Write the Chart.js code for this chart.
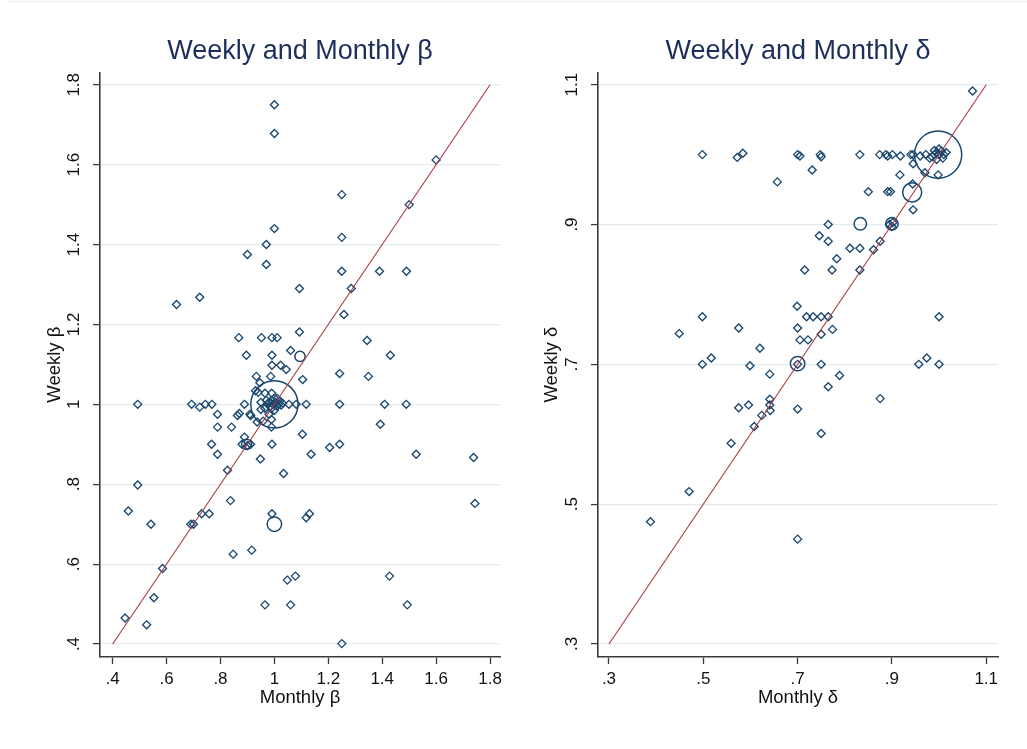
<!DOCTYPE html>
<html><head><meta charset="utf-8">
<script src="https://cdn.jsdelivr.net/npm/chart.js@4"></script>
<style>
html,body{margin:0;padding:0;background:#fff;}
#wrap{position:relative;width:1027px;height:749px;overflow:hidden;background:#fff;}
#c1{position:absolute;left:0;top:0;width:513px;height:749px;}
#c2{position:absolute;left:513px;top:0;width:514px;height:749px;}
#topline{position:absolute;left:7px;right:0;top:1px;height:1px;background:#e8eef0;}
</style></head><body>
<div id="wrap"><div id="topline"></div>
<canvas id="c1" width="513" height="749"></canvas>
<canvas id="c2" width="514" height="749"></canvas>
</div>
<script>
// ---------- DATA ----------
// Beta: single observations (diamonds)
const betaMonthly = [1.00,1.00,1.60,1.25,1.50,1.00,1.25,0.97,0.90,0.97,1.25,1.39,1.49,1.093,1.285,0.723,0.637,1.258,1.093,0.868,0.952,0.991,1.01,1.344,0.896,0.991,1.43,1.06,0.991,1.023,1.044,1.242,1.349,0.933,0.946,0.986,1.105,0.93,0.94,0.965,0.99,
0.493,0.693,0.723,0.744,0.768,0.789,0.789,0.841,0.767,0.789,0.826,0.863,0.87,0.889,0.909,0.912,0.889,0.88,0.90,0.912,0.948,0.991,1.034,1.104,1.136,1.054,1.081,1.118,1.242,1.409,1.489,1.393,1.205,1.242,1.526,1.739,1.744,
0.493,0.458,0.542,0.69,0.70,0.73,0.758,0.837,0.991,1.118,1.13,0.847,0.916,0.585,0.553,0.446,0.526,1.048,1.078,0.965,1.06,1.427,1.493,1.25,
0.95,0.95,0.98,0.989,0.958,0.936,0.989,
0.965,0.97,0.975,0.98,0.985,0.99,0.99,0.995,1.00,1.00,1.005,1.01,1.01,1.015,1.02,1.025,1.03];
const betaWeekly = [1.75,1.678,1.612,1.525,1.50,1.44,1.418,1.40,1.375,1.35,1.333,1.333,1.333,1.29,1.29,1.268,1.25,1.225,1.181,1.167,1.167,1.167,1.167,1.16,1.123,1.123,1.123,1.135,1.098,1.098,1.087,1.077,1.07,1.07,1.054,1.07,1.062,1.034,1.030,1.028,1.028,
1.0,1.0,0.993,1.0,1.0,0.975,0.943,0.943,0.90,0.875,0.835,0.972,0.977,1.0,0.975,0.972,0.918,0.90,0.897,0.90,0.863,0.90,0.827,0.925,0.875,1.0,1.0,1.0,1.0,1.0,1.0,0.95,0.892,0.90,0.875,0.867,0.752,
0.798,0.733,0.70,0.70,0.70,0.726,0.726,0.759,0.726,0.716,0.726,0.625,0.635,0.589,0.516,0.465,0.448,0.56,0.57,0.498,0.498,0.57,0.498,0.401,
1.005,0.987,0.975,0.962,0.958,0.956,0.943,
0.99,1.01,1.0,1.005,0.995,1.01,0.99,1.0,1.015,0.985,1.005,0.995,1.015,1.0,1.008,0.998,1.003];
// Beta: repeated observations (hollow circles, count = number of firms)
const betaRepMonthly = [1.00,1.00,1.095,0.897];
const betaRepWeekly  = [1.00,0.70,1.12,0.90];
const betaRepCount   = [43,4,2,2];

// Delta: single observations (diamonds)
const deltaMonthly = [1.071,0.498,0.572,0.584,0.70,0.705,0.748,0.75,0.832,0.874,0.887,0.891,0.901,0.918,0.94,0.945,0.96,0.972,
0.985,0.99,0.995,1.0,1.005,1.01,0.995,1.0,1.008,0.99,1.015,0.98,
0.945,0.97,0.998,0.731,0.657,0.917,0.944,0.85,0.891,0.897,0.945,0.765,0.895,0.902,0.90,0.746,0.765,0.811,0.832,0.861,0.875,0.783,0.715,0.773,0.832,
0.699,0.719,0.733,0.75,0.765,0.498,1.0,0.575,0.70,0.774,0.75,0.449,0.705,0.722,0.62,0.498,0.517,0.70,0.599,0.75,0.957,0.974,1.0,0.641,0.789,0.765,0.875,
0.575,0.596,0.641,0.641,0.642,0.624,0.608,0.70,0.75,0.559,0.47,0.388,0.70];
const deltaWeekly = [1.091,1.0,0.996,1.002,1.0,0.998,1.0,0.997,1.0,1.0,1.0,0.998,1.0,0.998,1.0,1.0,0.998,1.0,
0.997,1.0,1.003,1.0,1.005,1.0,0.993,1.008,0.995,1.006,1.003,0.995,
0.987,0.974,0.971,0.978,0.961,0.971,0.958,0.947,0.947,0.947,0.921,0.90,0.90,0.903,0.897,0.884,0.876,0.866,0.866,0.864,0.876,0.851,0.835,0.835,0.835,
0.783,0.768,0.768,0.768,0.768,0.768,0.768,0.752,0.752,0.75,0.743,0.744,0.735,0.735,0.723,0.70,0.709,0.70,0.698,0.70,0.70,0.709,0.70,0.686,0.684,0.668,0.651,
0.638,0.642,0.65,0.642,0.634,0.627,0.611,0.636,0.601,0.587,0.518,0.475,0.45];
// Delta: repeated observations
const deltaRepMonthly = [0.998,0.943,0.833,0.90,0.70];
const deltaRepWeekly  = [1.00,0.946,0.901,0.901,0.701];
const deltaRepCount   = [43,7,3,3,4];

// Tick values and labels
const betaTicks = [0.4,0.6,0.8,1.0,1.2,1.4,1.6,1.8];
const betaTickLabels = ['.4','.6','.8','1','1.2','1.4','1.6','1.8'];
const deltaTicks = [0.3,0.5,0.7,0.9,1.1];
const deltaTickLabels = ['.3','.5','.7','.9','1.1'];

// ---------- STYLE ----------
const FONT = '"Liberation Sans", Arial, sans-serif';
const NAVY = '#1a476f';
const RED = '#a8393f';
const TXT = '#111111';
const GRID = '#e3ecef';
const AXIS = '#3a3a3a';

// Stata-style tick labels: y labels rotated, x labels horizontal
const tickLabelPlugin = {
  id: 'tickLabels',
  afterDraw(chart, args, opts) {
    const sy = chart.scales.y, sx = chart.scales.x, ctx = chart.ctx;
    ctx.save();
    ctx.font = opts.size + 'px ' + FONT;
    ctx.fillStyle = TXT;
    ctx.textAlign = 'center';
    ctx.textBaseline = 'middle';
    opts.ticks.forEach((v, i) => {
      const y = sy.getPixelForValue(v);
      ctx.save();
      ctx.translate(sy.right - opts.yOffset, y);
      ctx.rotate(-Math.PI / 2);
      ctx.fillText(opts.labels[i], 0, 0);
      ctx.restore();
    });
    ctx.textBaseline = 'top';
    opts.ticks.forEach((v, i) => {
      ctx.fillText(opts.labels[i], sx.getPixelForValue(v), sx.top + opts.xOffset);
    });
    ctx.restore();
  }
};

function makeChart(id, p) {
  const pts = p.mx.map((x, i) => ({x: x, y: p.wy[i]}));
  const reps = p.rx.map((x, i) => ({x: x, y: p.ry[i], n: p.rn[i]}));
  const t0 = p.ticks[0], t1 = p.ticks[p.ticks.length - 1];
  return new Chart(document.getElementById(id), {
    type: 'scatter',
    data: {datasets: [
      {type: 'line', data: [{x: t0, y: t0}, {x: t1, y: t1}], borderColor: RED, borderWidth: 1.1,
       pointRadius: 0, fill: false, order: 0},
      {data: pts, pointStyle: 'rectRot', pointRadius: 4, borderColor: NAVY,
       backgroundColor: 'rgba(0,0,0,0)', borderWidth: 1.35, order: 1},
      {data: reps, pointStyle: 'circle', pointRadius: ctx => 3.6 * Math.sqrt(ctx.raw.n),
       borderColor: NAVY, backgroundColor: 'rgba(0,0,0,0)', borderWidth: 1.5, order: 1}
    ]},
    plugins: [tickLabelPlugin],
    options: {
      responsive: false, animation: false, events: [],
      layout: {autoPadding: false, padding: {left: 0, right: p.padRight, top: 0, bottom: 0}},
      plugins: {
        legend: {display: false}, tooltip: {enabled: false},
        title: {display: true, text: p.title, fullSize: false, color: '#1c2f5c',
                font: {family: FONT, size: 27, weight: 'normal'}, padding: {top: 35, bottom: 5}},
        tickLabels: {ticks: p.ticks, labels: p.labels, yOffset: 26, xOffset: 14, size: 17}
      },
      scales: {
        x: {type: 'linear', min: p.xmin, max: p.xmax,
          afterBuildTicks: s => { s.ticks = p.ticks.map(v => ({value: v})); },
          afterFit: s => { s.height = 92; },
          ticks: {display: false},
          grid: {display: true, drawOnChartArea: false, drawTicks: true, tickLength: 7, tickColor: AXIS, tickWidth: 1.3},
          border: {display: true, color: AXIS, width: 1.6},
          title: {display: true, text: p.xTitle, color: TXT, font: {family: FONT, size: 18.5}, padding: {top: 0, bottom: 40}}
        },
        y: {type: 'linear', min: p.ymin, max: p.ymax,
          afterBuildTicks: s => { s.ticks = p.ticks.map(v => ({value: v})); },
          afterFit: s => { s.width = p.yWidth; },
          ticks: {display: false},
          grid: {display: true, drawOnChartArea: true, drawTicks: true, tickLength: 7, color: GRID, lineWidth: 1.2,
                 tickColor: AXIS, tickWidth: 1.3},
          border: {display: true, color: AXIS, width: 1.6},
          title: {display: true, text: p.yTitle, color: TXT, font: {family: FONT, size: 18.5}, padding: {top: p.yTitlePad, bottom: 0}}
        }
      }
    }
  });
}

makeChart('c1', {
  mx: betaMonthly, wy: betaWeekly, rx: betaRepMonthly, ry: betaRepWeekly, rn: betaRepCount,
  ticks: betaTicks, labels: betaTickLabels,
  title: 'Weekly and Monthly \u03B2', xTitle: 'Monthly \u03B2', yTitle: 'Weekly \u03B2',
  xmin: 0.353, xmax: 1.837, ymin: 0.3675, ymax: 1.831,
  padRight: 13, yWidth: 100, yTitlePad: 44
});
makeChart('c2', {
  mx: deltaMonthly, wy: deltaWeekly, rx: deltaRepMonthly, ry: deltaRepWeekly, rn: deltaRepCount,
  ticks: deltaTicks, labels: deltaTickLabels,
  title: 'Weekly and Monthly \u03B4', xTitle: 'Monthly \u03B4', yTitle: 'Weekly \u03B4',
  xmin: 0.2767, xmax: 1.125, ymin: 0.2814, ymax: 1.1176,
  padRight: 29, yWidth: 85, yTitlePad: 28
});
</script>
</body></html>
